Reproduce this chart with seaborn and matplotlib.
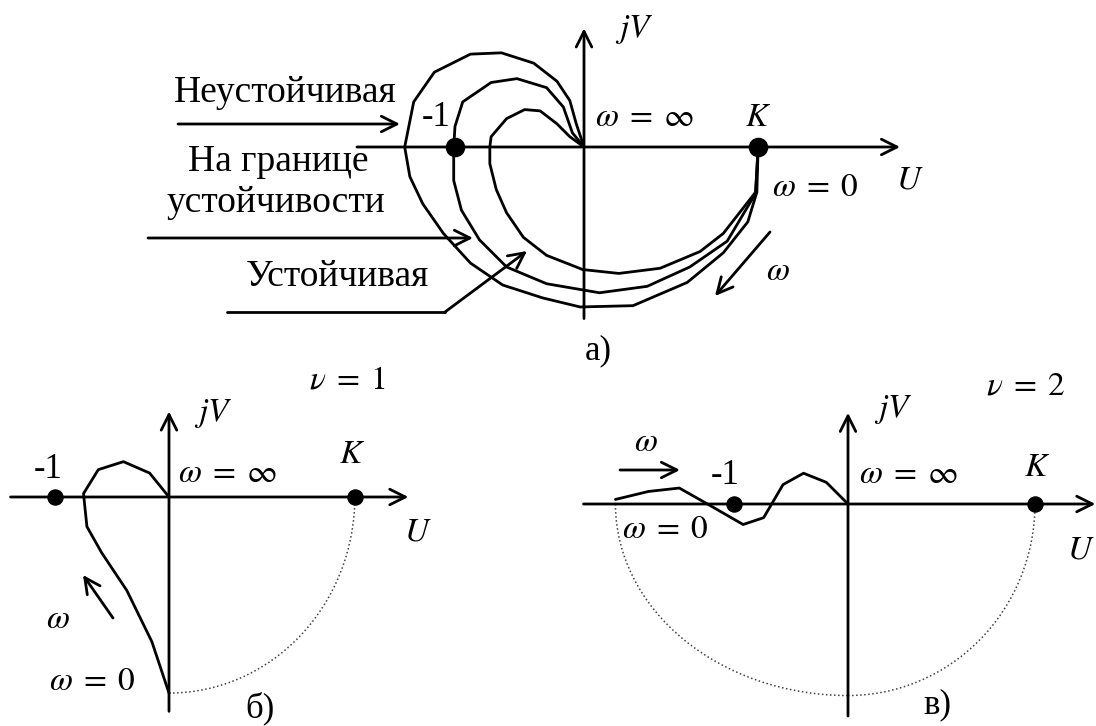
import numpy as np
import seaborn as sns
import matplotlib.pyplot as plt
from matplotlib.patches import Arc, FancyArrowPatch
from matplotlib.transforms import Affine2D


# а) годографы W(jw): неустойчивая, на границе, устойчивая
a_unstable_u = [0, -0.06, -0.11, -0.21, -0.39, -0.64, -0.88, -1.16, -1.32, -1.39, -1.35, -1.25,
                -1.09, -0.88, -0.63, -0.32, -0.03, 0.38, 0.80, 1.08, 1.27, 1.34, 1.35]
a_unstable_v = [0, 0.18, 0.36, 0.51, 0.65, 0.73, 0.72, 0.58, 0.35, 0.0, -0.23, -0.44,
                -0.67, -0.90, -1.07, -1.17, -1.24, -1.23, -1.05, -0.82, -0.58, -0.35, 0]
a_border_u = [0, -0.09, -0.16, -0.29, -0.52, -0.72, -0.94, -1.0, -1.01, -1.01, -0.95, -0.81,
              -0.60, -0.29, 0.12, 0.49, 0.82, 1.11, 1.33, 1.35]
a_border_v = [0, 0.11, 0.31, 0.46, 0.53, 0.50, 0.35, 0.16, 0.0, -0.26, -0.49, -0.72,
              -0.93, -1.06, -1.13, -1.08, -0.93, -0.73, -0.36, 0]
a_stable_u = [0, -0.11, -0.21, -0.34, -0.46, -0.60, -0.72, -0.73, -0.73, -0.68, -0.60, -0.47,
              -0.29, -0.01, 0.27, 0.59, 0.90, 1.08, 1.33, 1.35]
a_stable_v = [0, 0.08, 0.18, 0.28, 0.29, 0.22, 0.08, 0.0, -0.13, -0.33, -0.51, -0.70,
              -0.84, -0.95, -0.98, -0.94, -0.81, -0.67, -0.35, 0]
a_K = 1.35

# б) nu = 1
b_u = [0, -0.17, -0.40, -0.62, -0.75, -0.72, -0.59, -0.37, -0.15, 0]
b_v = [0, 0.21, 0.31, 0.24, 0.03, -0.26, -0.49, -0.82, -1.27, -1.72]
b_K = 1.63

# в) nu = 2
c_u = [-2.04, -1.75, -1.48, -1.25, -0.92, -0.74, -0.57, -0.39, -0.19, 0]
c_v = [0.04, 0.11, 0.14, 0.01, -0.18, -0.12, 0.17, 0.27, 0.19, 0]
c_K = 1.64
c_depth = 1.68

W, H = 1096, 726

sns.set_theme(style="white")
plt.rcParams['font.family'] = ['Liberation Serif', 'DejaVu Serif']
plt.rcParams['mathtext.fontset'] = 'stix'

fig = plt.figure(figsize=(W / 100, H / 100), dpi=100)
px = Affine2D().scale(1 / W, -1 / H).translate(0, 1) + fig.transFigure

FS_TEXT = 27
FS_MATH = 24

W_INF = r'$\omega\;=\;\infty$'
W_ZERO = r'$\omega\;=\;0$'


def panel(origin, scale, box):
    x0, y0, x1, y1 = box
    ax = fig.add_axes([x0 / W, 1 - y1 / H, (x1 - x0) / W, (y1 - y0) / H])
    ax.set_xlim((x0 - origin[0]) / scale, (x1 - origin[0]) / scale)
    ax.set_ylim((origin[1] - y1) / scale, (origin[1] - y0) / scale)
    ax.axis('off')
    return ax


def axes_arrows(ax, u0, u1, v0, v1):
    style = dict(arrowstyle='->', lw=2, color='black', shrinkA=0, shrinkB=0, mutation_scale=28)
    ax.annotate('', xy=(u1, 0), xytext=(u0, 0), arrowprops=style)
    ax.annotate('', xy=(0, v1), xytext=(0, v0), arrowprops=style)


def curve(ax, u, v):
    sns.lineplot(x=u, y=v, sort=False, estimator=None, color='black', lw=2, ax=ax)


def dots(ax, us, size):
    sns.scatterplot(x=us, y=[0] * len(us), color='black', s=size, edgecolor='black',
                    zorder=5, ax=ax, legend=False)


def arrow_px(p0, p1):
    fig.add_artist(FancyArrowPatch(p0, p1, transform=px, arrowstyle='->', lw=2,
                                   color='black', shrinkA=0, shrinkB=0, mutation_scale=28))


def label(x, y, s, ha='center', fs=None):
    if fs is None:
        fs = FS_MATH if s.startswith('$') else FS_TEXT
    fig.text(x, y, s, transform=px, ha=ha, va='center', fontsize=fs, color='black')


# ---- а) ----
ax_a = panel((584, 147), 129, (0, 0, W, 340))
axes_arrows(ax_a, -1.76, 2.45, -1.33, 0.92)
curve(ax_a, a_unstable_u, a_unstable_v)
curve(ax_a, a_border_u, a_border_v)
curve(ax_a, a_stable_u, a_stable_v)
dots(ax_a, [-1, a_K], 170)

label(285, 93, 'Неустойчивая')
label(278, 162, 'На границе')
label(276, 203, 'устойчивости')
label(337, 277, 'Устойчивая')
arrow_px((178, 124), (400, 124))
arrow_px((148, 238), (473, 238))
fig.add_artist(plt.Line2D([227, 445], [312, 312], transform=px, color='black', lw=2))
arrow_px((445, 312), (527, 251))
arrow_px((770, 232), (715, 296))

label(634, 30, '$jV$')
label(436, 118, '-1', fs=25)
label(645, 118, W_INF)
label(758, 118, '$K$')
label(815, 188, W_ZERO)
label(910, 180, '$U$')
label(778, 272, r'$\omega$')
label(598, 351, 'а)', fs=25)

# ---- б) ----
ax_b = panel((169, 497), 114, (0, 360, 450, H))
axes_arrows(ax_b, -1.39, 2.10, -1.88, 0.75)
curve(ax_b, b_u, b_v)
dots(ax_b, [-1, b_K], 120)
ax_b.add_patch(Arc((0, 0), 2 * b_K, -2 * b_v[-1], theta1=270, theta2=360,
                   ls=':', lw=1.1, color='0.25'))
arrow_px((113, 618), (83, 575))

label(48, 469, '-1', fs=25)
label(213, 413, '$jV$')
label(228, 474, W_INF)
label(352, 455, '$K$')
label(418, 532, '$U$')
label(347, 380, r'$\nu\;=\;1$')
label(58, 620, r'$\omega$')
label(92, 682, W_ZERO)
label(260, 708, 'б)', fs=25)

# ---- в) ----
ax_c = panel((848, 504), 114, (560, 360, W, H))
axes_arrows(ax_c, -2.32, 2.17, -1.86, 0.80)
curve(ax_c, c_u, c_v)
dots(ax_c, [-1, c_K], 120)
ax_c.add_patch(Arc((0, 0), 2 * c_K, 2 * c_depth, theta1=270, theta2=360,
                   ls=':', lw=1.1, color='0.25'))
ax_c.add_patch(Arc((0, 0), -2 * c_u[0], 2 * c_depth, theta1=180, theta2=270,
                   ls=':', lw=1.1, color='0.25'))
arrow_px((620, 470), (680, 470))

label(646, 443, r'$\omega$')
label(725, 475, '-1', fs=25)
label(665, 530, W_ZERO)
label(893, 410, '$jV$')
label(909, 475, W_INF)
label(1037, 468, '$K$')
label(1095, 550, '$U$', ha='right')
label(1026, 386, r'$\nu\;=\;2$')
label(937, 705, 'в)', fs=25)

fig.savefig('out.png', dpi=100)
